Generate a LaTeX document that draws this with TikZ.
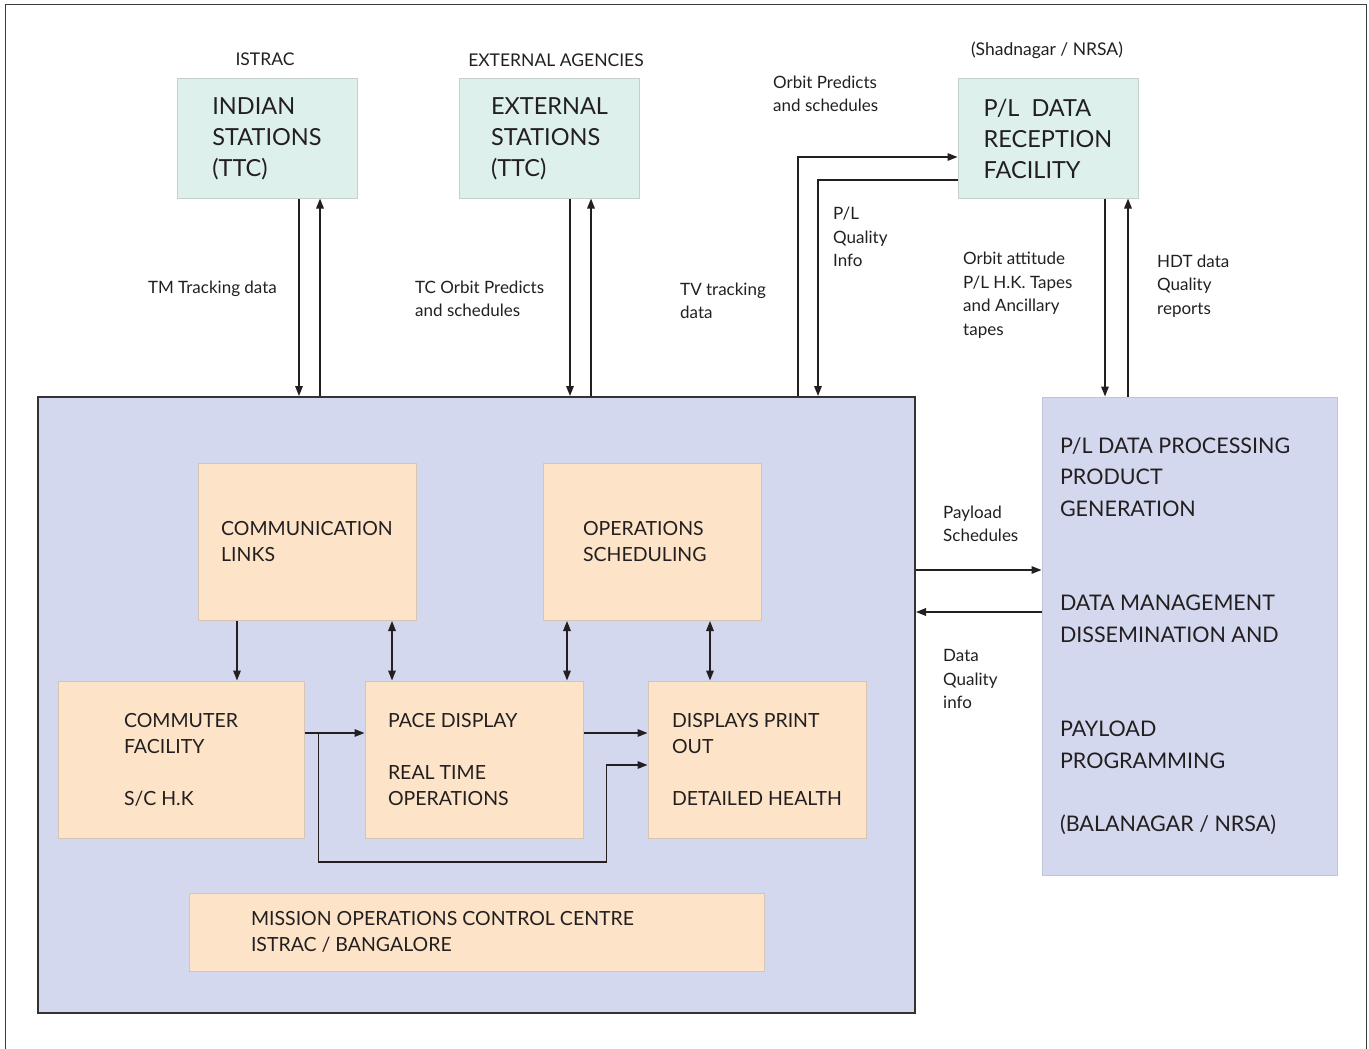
\documentclass[tikz,border=0pt]{standalone}
\usepackage{fontspec}
\setmainfont{Lato}
\usetikzlibrary{arrows.meta}
\definecolor{ink}{HTML}{231F20}
\definecolor{framegray}{HTML}{3C3C3C}
\definecolor{ttcfill}{HTML}{DEF0EC}
\definecolor{ttcline}{HTML}{C5D0CC}
\definecolor{mocfill}{HTML}{D3D8EE}
\definecolor{mocline}{HTML}{333333}
\definecolor{procline}{HTML}{BEC3D6}
\definecolor{unitfill}{HTML}{FDE4C8}
\definecolor{unitline}{HTML}{D6C5B3}

\begin{document}
\begin{tikzpicture}[x=1pt, y=-1pt,
  ttc/.style={draw=ttcline, fill=ttcfill, line width=1pt, minimum width=180pt, minimum height=119pt,
    inner sep=0pt, align=left, text=ink, font=\fontsize{23.5}{31}\selectfont},
  unit/.style={draw=unitline, fill=unitfill, line width=1pt, minimum width=218pt, minimum height=157pt,
    inner sep=0pt, align=left, text=ink, font=\fontsize{19.5}{26}\selectfont},
  lbl/.style={inner sep=0pt, align=left, anchor=west, text=ink, font=\fontsize{17}{23.5}\selectfont},
  site/.style={inner sep=0pt, text=ink, font=\fontsize{17.5}{20}\selectfont},
  flow/.style={line width=1.5pt, draw=ink, -{Triangle[length=10pt,width=7.5pt]}},
  duplex/.style={line width=1.5pt, draw=ink, {Triangle[length=10pt,width=7.5pt]}-{Triangle[length=10pt,width=7.5pt]}}]

\useasboundingbox (0,0) rectangle (1369,1049);
\draw[framegray, line width=1pt] (5,1049) -- (5,5) -- (1366,5) -- (1366,1049);

% ground stations
\node[site] (istrac) at (265,59) {ISTRAC};
\node[site] (agencies) at (556,60) {EXTERNAL AGENCIES};
\node[site] (shadnagar) at (1047,50) {(Shadnagar / NRSA)};
\node[ttc] (indian) at (267,138.5) {INDIAN\\STATIONS\\(TTC)};
\node[ttc] (external) at (549.5,138.5) {EXTERNAL\\STATIONS\\(TTC)};
\node[ttc] (recep) at (1048,138.5) {P/L\ \ DATA\\RECEPTION\\FACILITY};

% control centre
\node[draw=mocline, fill=mocfill, line width=2pt, minimum width=877pt, minimum height=616pt, inner sep=0pt] (centre) at (476.5,705) {};
\node[fill=mocfill, draw=procline, line width=1pt, minimum width=295pt, minimum height=478pt, inner sep=0pt,
  inner xsep=18pt, text width=259pt, align=flush left, text=ink, font=\fontsize{21.5}{31.5}\selectfont] (proc) at (1189.5,636)
  {P/L DATA PROCESSING\\PRODUCT\\GENERATION\\[63pt]DATA MANAGEMENT\\DISSEMINATION AND\\[63pt]PAYLOAD\\PROGRAMMING\\[32pt](BALANAGAR / NRSA)};

\node[unit] (comm) at (307,542) {COMMUNICATION\\LINKS};
\node[unit, inner xsep=40pt, text width=138pt, align=flush left] (ops) at (652,542) {OPERATIONS\\SCHEDULING};
\node[unit, minimum width=246pt] (commuter) at (181,759.5) {COMMUTER\\FACILITY\\[26pt]S/C H.K};
\node[unit, inner xsep=23pt, text width=172pt, align=flush left] (pace) at (474,759.5) {PACE DISPLAY\\[26pt]REAL TIME\\OPERATIONS};
\node[unit] (disp) at (757,759.5) {DISPLAYS PRINT\\OUT\\[26pt]DETAILED HEALTH};
\node[unit, minimum width=575pt, minimum height=78pt, inner xsep=62pt, text width=451pt, align=flush left] (mocc) at (476.5,932) {MISSION OPERATIONS CONTROL CENTRE\\ISTRAC / BANGALORE};

% links to the stations
\draw[flow] ([xshift=32pt]indian.south) -- ([xshift=32pt]indian.south |- centre.north);
\draw[flow] ([xshift=53pt]indian.south |- centre.north) -- ([xshift=53pt]indian.south);
\draw[flow] ([xshift=20.5pt]external.south) -- ([xshift=20.5pt]external.south |- centre.north);
\draw[flow] ([xshift=41.5pt]external.south |- centre.north) -- ([xshift=41.5pt]external.south);
\draw[flow] ([xshift=321.5pt]centre.north) |- ([yshift=-18.5pt]recep.west);
\draw[flow] ([yshift=-41.5pt]recep.west) -| ([xshift=341.5pt]centre.north);
\draw[flow] ([xshift=57pt]recep.south) -- ([xshift=57pt]recep.south |- proc.north);
\draw[flow] ([xshift=80pt]recep.south |- proc.north) -- ([xshift=80pt]recep.south);
\draw[flow] ([yshift=66pt]proc.west -| centre.east) -- ([yshift=66pt]proc.west);
\draw[flow] ([yshift=24pt]proc.west) -- ([yshift=24pt]proc.west -| centre.east);

\node[lbl, anchor=east] (tm-lbl) at (277,289) {TM Tracking data};
\node[lbl] (tc-lbl) at (415,299) {TC Orbit Predicts\\and schedules};
\node[lbl] (tv-lbl) at (680,301) {TV tracking\\data};
\node[lbl] (orbit-lbl) at (773,94) {Orbit Predicts\\and schedules};
\node[lbl] (pl-lbl) at (833,237) {P/L\\Quality\\Info};
\node[lbl] (tapes-lbl) at (963,295) {Orbit attitude\\P/L H.K. Tapes\\and Ancillary\\tapes};
\node[lbl] (hdt-lbl) at (1157,286) {HDT data\\Quality\\reports};
\node[lbl] (sched-lbl) at (943,524) {Payload\\Schedules};
\node[lbl] (dq-lbl) at (943,679) {Data\\Quality\\info};

% inside the centre
\draw[flow] ([xshift=-70pt]comm.south) -- ([xshift=-70pt]comm.south |- commuter.north);
\draw[duplex] ([xshift=85pt]comm.south) -- ([xshift=85pt]comm.south |- pace.north);
\draw[duplex] ([xshift=-85pt]ops.south) -- ([xshift=-85pt]ops.south |- pace.north);
\draw[duplex] ([xshift=58pt]ops.south) -- ([xshift=58pt]ops.south |- disp.north);
\draw[flow] ([yshift=26.5pt]commuter.east) -- ([yshift=26.5pt]pace.west);
\draw[flow] ([yshift=26.5pt]pace.east) -- ([yshift=26.5pt]disp.west);
\draw[flow] ([xshift=14pt,yshift=26.5pt]commuter.east) -- ++(0,129) -| ([xshift=-41pt,yshift=-5.5pt]disp.west) -- ([yshift=-5.5pt]disp.west);

\end{tikzpicture}
\end{document}
